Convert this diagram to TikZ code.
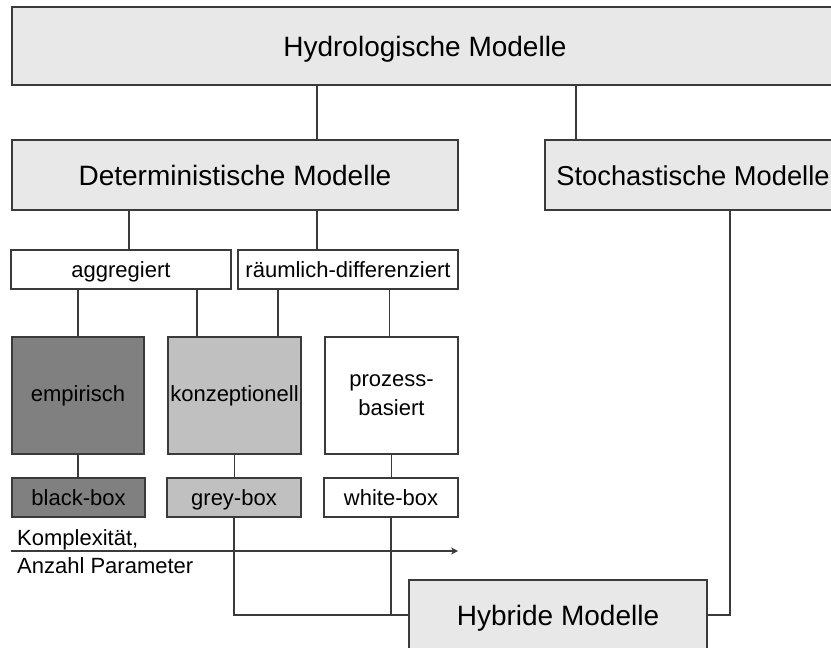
\documentclass[tikz,border=0pt]{standalone}
\usepackage{fontspec}
\setmainfont{Liberation Sans}
\usetikzlibrary{arrows.meta}
\definecolor{lightbox}{HTML}{E8E8E8}
\definecolor{darkbox}{HTML}{808080}
\definecolor{midbox}{HTML}{C0C0C0}
\definecolor{edge}{HTML}{3A3A3A}
\tikzset{
  boxbase/.style={draw=edge, line width=1.2pt, inner sep=0pt, outer sep=0pt, align=center},
  bigbox/.style={boxbase, fill=lightbox, minimum height=70pt, text height=21pt, text depth=0pt, font=\fontsize{28}{32}\selectfont},
  smallbox/.style={boxbase, fill=white, minimum width=220pt, minimum height=39pt, text height=16pt, text depth=0pt, font=\fontsize{22}{26}\selectfont},
  typebox/.style={boxbase, minimum width=133pt, minimum height=117pt, font=\fontsize{22}{29}\selectfont},
  labelbox/.style={boxbase, minimum width=134pt, minimum height=39pt, text height=16pt, text depth=0pt, font=\fontsize{22}{26}\selectfont},
  conn/.style={draw=edge, line width=1.1pt},
  plain/.style={inner sep=0pt, text height=16pt, text depth=0pt, font=\fontsize{22}{26}\selectfont, anchor=west}
}
\begin{document}
\begin{tikzpicture}[x=1pt,y=-1pt]
\useasboundingbox (0,0) rectangle (831,648);
\clip (0,0) rectangle (831,648);
\fill[white] (0,0) rectangle (831,648);
% nodes
\node[bigbox, minimum width=826pt, minimum height=78pt] (top) at (425,46) {Hydrologische Modelle};
\node[bigbox, minimum width=446pt] (det) at (235,175) {Deterministische Modelle};
\node[bigbox, minimum width=296pt, font=\fontsize{27.3}{32}\selectfont] (sto) at (693,175) {Stochastische Modelle};
\node[smallbox] (agg) at (121,269.5) {aggregiert};
\node[smallbox] (rd) at (348,269.5) {räumlich-differenziert};
\node[typebox, minimum width=132pt, fill=darkbox] (emp) at (78,395.5) {empirisch};
\node[typebox, fill=midbox] (kon) at (234.5,395.5) {konzeptionell};
\node[typebox, fill=white] (pro) at (391.5,395.5) {prozess-\\basiert};
\node[labelbox, minimum width=133pt, fill=darkbox] (bb) at (78.5,497.5) {black-box};
\node[labelbox, fill=midbox] (gb) at (234,497.5) {grey-box};
\node[labelbox, fill=white] (wb) at (391,497.5) {white-box};
\node[bigbox, minimum width=298pt] (hyb) at (558,615) {Hybride Modelle};
% connectors
\draw[conn] ([xshift=82pt]det.north) -- ([xshift=82pt]det.north |- top.south);
\draw[conn] ([xshift=-117pt]sto.north) -- ([xshift=-117pt]sto.north |- top.south);
\draw[conn] ([xshift=8pt]agg.north) -- ([xshift=8pt]agg.north |- det.south);
\draw[conn] ([xshift=-31pt]rd.north) -- ([xshift=-31pt]rd.north |- det.south);
\draw[conn] (emp.north) -- (emp.north |- agg.south);
\draw[conn] ([xshift=-37.5pt]kon.north) -- ([xshift=-37.5pt]kon.north |- agg.south);
\draw[conn] ([xshift=43.5pt]kon.north) -- ([xshift=43.5pt]kon.north |- rd.south);
\draw[conn] ([xshift=-2pt]pro.north) -- ([xshift=-2pt]pro.north |- rd.south);
\draw[conn] (emp.south) -- (emp.south |- bb.north);
\draw[conn] (kon.south) -- (kon.south |- gb.north);
\draw[conn] (pro.south) -- (pro.south |- wb.north);
\draw[conn] (gb.south) |- (hyb.west);
\draw[conn] (wb.south) -- (wb.south |- hyb.west);
\draw[conn] ([xshift=37pt]sto.south) |- (hyb.east);
% complexity arrow
\coordinate (a0) at (11,551);
\coordinate (a1) at (458,551);
\draw[conn, -{Stealth[length=7pt,width=7pt]}] (a0) -- (a1);
\node[plain] (k1) at (17,537) {Komplexität,};
\node[plain] (k2) at (17,565) {Anzahl Parameter};
\end{tikzpicture}
\end{document}
